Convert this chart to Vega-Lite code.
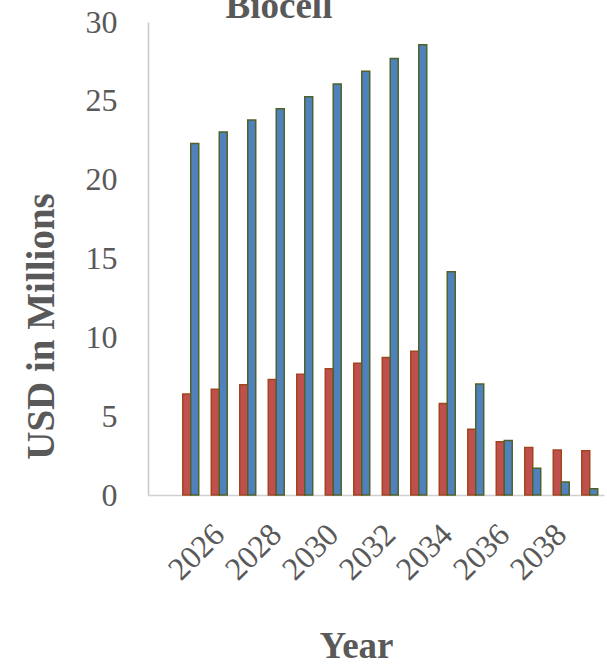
{
  "$schema": "https://vega.github.io/schema/vega-lite/v6.json",
  "autosize": {"type": "none"},
  "width": 456,
  "height": 473,
  "padding": {"left": 148, "top": 22, "right": 3, "bottom": 170},
  "background": "white",
  "config": {
    "view": {"stroke": null},
    "font": "Liberation Serif"
  },
  "title": {
    "text": "Biocell",
    "font": "Liberation Serif",
    "fontSize": 37,
    "fontWeight": "bold",
    "color": "#595959",
    "anchor": "middle",
    "frame": "group",
    "baseline": "alphabetic",
    "dx": -97,
    "offset": -49
  },
  "data": {
    "values": [
      {"year": 2025, "series": "Revenue", "value": 6.40},
      {"year": 2025, "series": "Cost", "value": 22.30},
      {"year": 2026, "series": "Revenue", "value": 6.70},
      {"year": 2026, "series": "Cost", "value": 23.02},
      {"year": 2027, "series": "Revenue", "value": 7.00},
      {"year": 2027, "series": "Cost", "value": 23.78},
      {"year": 2028, "series": "Revenue", "value": 7.33},
      {"year": 2028, "series": "Cost", "value": 24.50},
      {"year": 2029, "series": "Revenue", "value": 7.66},
      {"year": 2029, "series": "Cost", "value": 25.26},
      {"year": 2030, "series": "Revenue", "value": 8.00},
      {"year": 2030, "series": "Cost", "value": 26.06},
      {"year": 2031, "series": "Revenue", "value": 8.36},
      {"year": 2031, "series": "Cost", "value": 26.87},
      {"year": 2032, "series": "Revenue", "value": 8.72},
      {"year": 2032, "series": "Cost", "value": 27.69},
      {"year": 2033, "series": "Revenue", "value": 9.11},
      {"year": 2033, "series": "Cost", "value": 28.56},
      {"year": 2034, "series": "Revenue", "value": 5.81},
      {"year": 2034, "series": "Cost", "value": 14.16},
      {"year": 2035, "series": "Revenue", "value": 4.17},
      {"year": 2035, "series": "Cost", "value": 7.04},
      {"year": 2036, "series": "Revenue", "value": 3.38},
      {"year": 2036, "series": "Cost", "value": 3.45},
      {"year": 2037, "series": "Revenue", "value": 3.02},
      {"year": 2037, "series": "Cost", "value": 1.69},
      {"year": 2038, "series": "Revenue", "value": 2.85},
      {"year": 2038, "series": "Cost", "value": 0.82},
      {"year": 2039, "series": "Revenue", "value": 2.81},
      {"year": 2039, "series": "Cost", "value": 0.40}
    ]
  },
  "mark": {"type": "bar", "strokeWidth": 1.5},
  "encoding": {
    "x": {
      "field": "year",
      "type": "ordinal",
      "scale": {
        "domain": [2024, 2025, 2026, 2027, 2028, 2029, 2030, 2031, 2032, 2033, 2034, 2035, 2036, 2037, 2038, 2039],
        "paddingInner": 0.44,
        "paddingOuter": 0.22
      },
      "axis": {
        "values": [2026, 2028, 2030, 2032, 2034, 2036, 2038],
        "labelAngle": -45,
        "labelAlign": "right",
        "labelBaseline": "middle",
        "labelPadding": 34,
        "labelFont": "Liberation Serif",
        "labelFontSize": 32,
        "labelColor": "#595959",
        "ticks": false,
        "grid": false,
        "domainColor": "#D0D0D0",
        "domainWidth": 1.5,
        "title": "Year",
        "titleFont": "Liberation Serif",
        "titleFontSize": 37,
        "titleFontWeight": "bold",
        "titleColor": "#595959",
        "titleBaseline": "alphabetic",
        "titleX": 208,
        "titleY": 162
      }
    },
    "xOffset": {
      "field": "series",
      "type": "nominal",
      "sort": ["Revenue", "Cost"],
      "scale": {"paddingInner": 0, "paddingOuter": 0}
    },
    "y": {
      "field": "value",
      "type": "quantitative",
      "scale": {"domain": [0, 30], "nice": false},
      "axis": {
        "values": [0, 5, 10, 15, 20, 25, 30],
        "labelFont": "Liberation Serif",
        "labelFontSize": 32,
        "labelColor": "#595959",
        "labelPadding": 31,
        "ticks": false,
        "grid": false,
        "domainColor": "#C8C8C8",
        "domainWidth": 1.5,
        "title": "USD in Millions",
        "titleFont": "Liberation Serif",
        "titleFontSize": 39,
        "titleFontWeight": "bold",
        "titleColor": "#595959",
        "titleAngle": -90,
        "titleAlign": "center",
        "titleBaseline": "alphabetic",
        "titleX": -95,
        "titleY": 304
      }
    },
    "color": {
      "field": "series",
      "type": "nominal",
      "scale": {"domain": ["Revenue", "Cost"], "range": ["#C0504D", "#4F81BD"]},
      "legend": null
    },
    "stroke": {
      "field": "series",
      "type": "nominal",
      "scale": {"domain": ["Revenue", "Cost"], "range": ["#A0461E", "#4F6228"]},
      "legend": null
    }
  }
}
